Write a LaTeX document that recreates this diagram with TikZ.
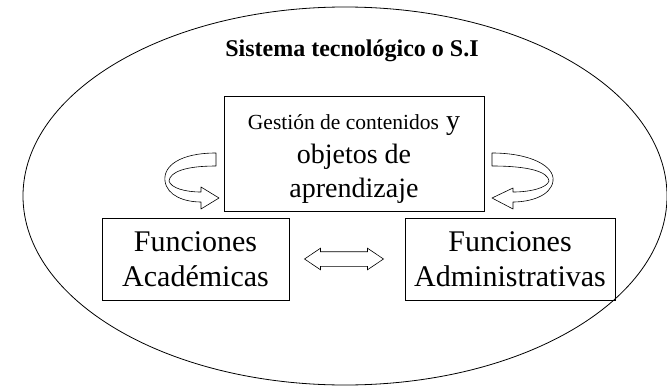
\documentclass[tikz,border=0pt]{standalone}
\usepackage{fontspec}
\setmainfont{Liberation Serif}
\usepackage{tikz}
\usetikzlibrary{calc,shapes.geometric,shapes.arrows}

\begin{document}
\begin{tikzpicture}[x=1pt,y=-1pt,
  caja/.style={draw, line width=0.8pt, align=center, inner sep=0pt,
               font=\fontsize{30}{35}\selectfont},
  cinta/.style={draw, line width=0.6pt, fill=white, line join=round},
  flechadoble/.style={draw, line width=0.6pt, double arrow, inner xsep=0pt, inner ysep=7pt,
               minimum height=79pt, double arrow head extend=3.5pt, double arrow tip angle=68}]
\useasboundingbox (0,0) rectangle (667,388);
% Outer ellipse and title
\node[ellipse, draw, line width=0.8pt, minimum width=644pt, minimum height=378pt, inner sep=0pt] (si) at (345,196) {};
\node[anchor=base, font=\fontsize{24}{28}\selectfont\bfseries] (titulo) at (352,56) {Sistema tecnológico o S.I};
% Boxes
\node[caja, minimum width=260pt, minimum height=115pt, font=\fontsize{28}{34}\selectfont] (gestion) at (354,154)
  {\rule{0pt}{24pt}{\fontsize{21.5}{34}\selectfont Gestión de contenidos} y\\objetos de\\aprendizaje};
\node[caja, minimum width=187pt, minimum height=82pt] (acad) at (195.5,259) {Funciones\\Académicas};
\node[caja, minimum width=210pt, minimum height=82pt] (admin) at (510,259) {Funciones\\Administrativas};
% Double arrow between the two functions
\node[flechadoble] (enlace) at ($(acad.east)!0.5!(admin.west)+(-3,0)$) {};
% Left curved arrow
\draw[cinta] (216,153) .. controls (180,153) and (163,166) .. (165,181)
  .. controls (167,196) and (185,202) .. (201,202)
  -- (201,209) -- (219,198) -- (201,187) -- (201,192)
  .. controls (185,192) and (171,188) .. (169,181)
  .. controls (170,172) and (185,166) .. (216,166) -- cycle;
% Right curved arrow
\draw[cinta] (492,153) .. controls (530,153) and (555,166) .. (553,181)
  .. controls (551,196) and (530,202) .. (513,202)
  -- (513,209) -- (492,198) -- (513,188) -- (513,192)
  .. controls (530,192) and (547,188) .. (549,181)
  .. controls (548,172) and (530,166) .. (492,166) -- cycle;
\end{tikzpicture}
\end{document}
